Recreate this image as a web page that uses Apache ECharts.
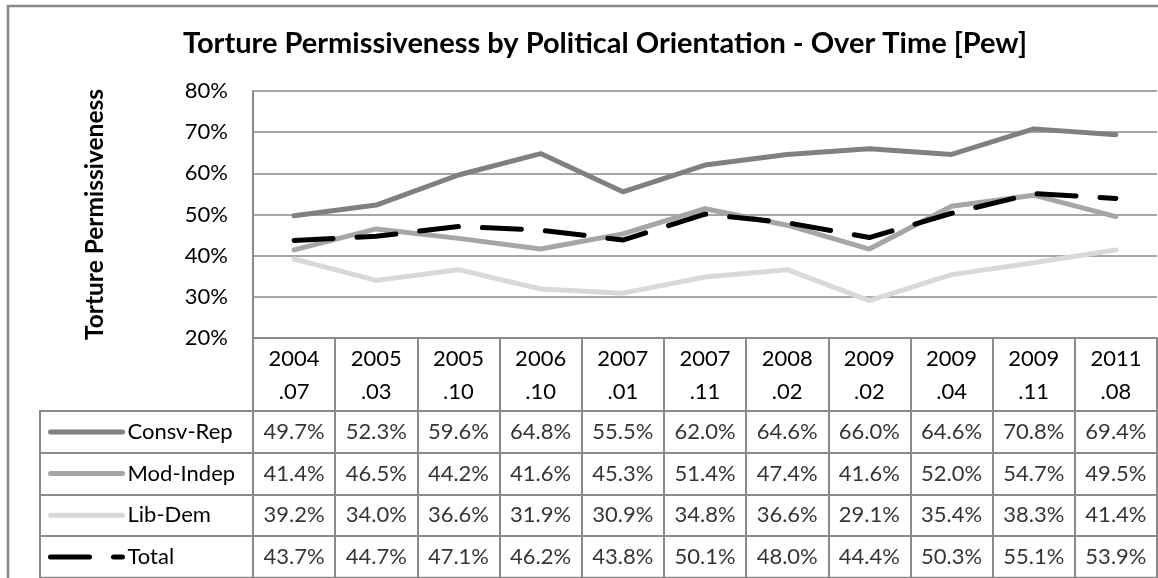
<!DOCTYPE html>
<html>
<head>
<meta charset="utf-8">
<style>html,body{margin:0;padding:0;background:#fff}#c{width:1158px;height:578px}</style>
<script src="https://cdn.jsdelivr.net/npm/echarts@6/dist/echarts.min.js"></script>
</head>
<body>
<div id="c"></div>
<script>
const categories = ['2004.07','2005.03','2005.10','2006.10','2007.01','2007.11','2008.02','2009.02','2009.04','2009.11','2011.08'];
const seriesNames = ['Consv-Rep','Mod-Indep','Lib-Dem','Total'];
const consvRep = [49.7,52.3,59.6,64.8,55.5,62.0,64.6,66.0,64.6,70.8,69.4];
const modIndep = [41.4,46.5,44.2,41.6,45.3,51.4,47.4,41.6,52.0,54.7,49.5];
const libDem   = [39.2,34.0,36.6,31.9,30.9,34.8,36.6,29.1,35.4,38.3,41.4];
const total    = [43.7,44.7,47.1,46.2,43.8,50.1,48.0,44.4,50.3,55.1,53.9];
const yTicks = {min: 20, max: 80, interval: 10};

const valuesByRow = [consvRep, modIndep, libDem, total];
const tableData = [];
valuesByRow.forEach((arr, r) => arr.forEach((v, i) => tableData.push([i, r, v])));

const FONT = 'Lato';
const GRID_C = '#8a8a8a';
const colors = ['#808080', '#a6a6a6', '#d9d9d9', '#000000'];

const chart = echarts.init(document.getElementById('c'));
chart.setOption({
  animation: false,
  textStyle: {fontFamily: FONT, color: '#000'},
  graphic: [{
    type: 'rect', z: -10, silent: true,
    shape: {x: 8, y: 6, width: 1300, height: 700},
    style: {fill: 'none', stroke: '#888', lineWidth: 2.5}
  }],
  title: {
    text: 'Torture Permissiveness by Political Orientation - Over Time [Pew]',
    left: 178, top: 24, padding: 5,
    textStyle: {fontFamily: FONT, fontWeight: 'bold', fontSize: 29, color: '#000'}
  },
  legend: {
    orient: 'vertical', left: 48, top: 420.9, padding: 0, height: 157,
    itemWidth: 72, itemHeight: 22, itemGap: 19.7,
    data: seriesNames,
    textStyle: {fontFamily: FONT, fontSize: 22, lineHeight: 22, color: '#000'},
    lineStyle: {width: 5},
    itemStyle: {color: 'transparent', borderWidth: 0, opacity: 0}
  },
  grid: [
    {left: 253, top: 91, width: 904, height: 247},
    {left: 253, top: 411, width: 904, height: 166.7, show: true, borderColor: GRID_C, borderWidth: 2},
    {left: 40, top: 411, width: 213, height: 166.7, show: true, borderColor: GRID_C, borderWidth: 2}
  ],
  xAxis: [
    {
      type: 'category', gridIndex: 0, data: categories, boundaryGap: true,
      axisLine: {lineStyle: {color: GRID_C, width: 2}},
      axisTick: {show: true, interval: 0, length: 73, lineStyle: {color: GRID_C, width: 2}},
      axisLabel: {
        interval: 0, margin: 4, fontSize: 22, lineHeight: 33, color: '#000', fontFamily: FONT,
        formatter: v => v.replace('.', '\n.')
      }
    },
    {
      type: 'category', gridIndex: 1, data: categories, boundaryGap: true,
      axisLine: {show: false}, axisTick: {show: false}, axisLabel: {show: false},
      splitLine: {show: true, interval: 0, lineStyle: {color: GRID_C, width: 2}}
    },
    {
      type: 'value', gridIndex: 2, min: 0, max: 1, show: false
    }
  ],
  yAxis: [
    {
      type: 'value', gridIndex: 0, min: yTicks.min, max: yTicks.max, interval: yTicks.interval,
      axisLine: {show: true, lineStyle: {color: GRID_C, width: 2}},
      axisTick: {show: false},
      splitLine: {lineStyle: {color: GRID_C, width: 1.5}},
      axisLabel: {formatter: '{value}%', fontSize: 22, color: '#000', margin: 25, fontFamily: FONT},
      name: 'Torture Permissiveness', nameLocation: 'middle', nameGap: 145, nameRotate: 90,
      nameTextStyle: {fontFamily: FONT, fontWeight: 'bold', fontSize: 24.5, color: '#000'}
    },
    {
      type: 'category', gridIndex: 1, data: seriesNames, inverse: true,
      axisLine: {show: false}, axisTick: {show: false}, axisLabel: {show: false},
      splitLine: {show: true, interval: 0, lineStyle: {color: GRID_C, width: 2}}
    },
    {
      type: 'category', gridIndex: 2, data: seriesNames, inverse: true,
      axisLine: {show: false}, axisTick: {show: false}, axisLabel: {show: false},
      splitLine: {show: true, interval: 0, lineStyle: {color: GRID_C, width: 2}}
    }
  ],
  series: [
    {name: 'Consv-Rep', type: 'line', data: consvRep, symbol: 'none', color: colors[0],
     lineStyle: {width: 5, color: colors[0], cap: 'round'}},
    {name: 'Mod-Indep', type: 'line', data: modIndep, symbol: 'none', color: colors[1],
     lineStyle: {width: 5, color: colors[1], cap: 'round'}},
    {name: 'Lib-Dem', type: 'line', data: libDem, symbol: 'none', color: colors[2],
     lineStyle: {width: 5, color: colors[2], cap: 'round'}},
    {name: 'Total', type: 'line', data: total, symbol: 'none', color: colors[3],
     lineStyle: {width: 5, color: colors[3], type: [39, 24], cap: 'round'}},
    {
      name: 'table', type: 'scatter', xAxisIndex: 1, yAxisIndex: 1, symbolSize: 0,
      data: tableData, silent: true,
      label: {
        show: true, position: 'inside', fontSize: 22, color: '#000', fontFamily: FONT,
        formatter: p => p.value[2].toFixed(1) + '%'
      }
    }
  ]
});
</script>
</body>
</html>
